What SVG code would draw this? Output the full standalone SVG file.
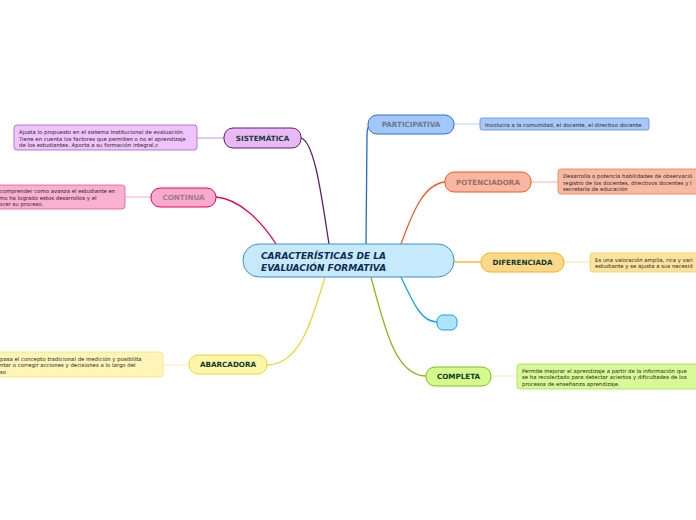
<svg xmlns="http://www.w3.org/2000/svg" width="696" height="520" viewBox="0 0 696 520">
<style>
.lbl{font-family:"DejaVu Sans",Verdana,sans-serif;font-weight:bold;font-size:7.2px;text-anchor:middle}
.desc{font-family:"DejaVu Sans",Verdana,sans-serif;font-size:5.3px;fill:#222;letter-spacing:0.04px}
.con{fill:none;stroke-width:1.3}
.thin{fill:none;stroke-width:1}
</style>
<rect width="696" height="520" fill="#ffffff"/>
<g id="connectors">
<path class="con" stroke="#5b1c6e" d="M329,244 C322,200 315,142 301,138"/>
<path class="con" stroke="#e4006b" d="M276,244 C262,222 240,199 216,197"/>
<path class="con" stroke="#1f6ed4" d="M366,244 L367,135 Q367,125 372,124"/>
<path class="con" stroke="#f05a24" d="M401,244 C414,208 425,184 445,182"/>
<path class="con" stroke="#f3b223" d="M454,262 L481,262"/>
<path class="con" stroke="#1aa0e6" d="M401,277 C414,305 422,322 437,322"/>
<path class="con" stroke="#8ab618" d="M371,277 C385,330 396,376 426,376"/>
<path class="con" stroke="#e8d63a" d="M325,277 C312,320 300,365 267,365"/>
<path class="thin" stroke="#c49ad8" d="M197,138 L224,138"/>
<path class="thin" stroke="#f7a6cc" d="M125,197 L151,197"/>
<path class="thin" stroke="#b8d2f7" d="M454,124 L480,124"/>
<path class="thin" stroke="#f6b6a0" d="M531,182 L558,182"/>
<path class="thin" stroke="#fde2a8" d="M564,262 L590,262"/>
<path class="thin" stroke="#e2f7b8" d="M491,376 L517,376"/>
<path class="thin" stroke="#f7efb0" d="M163,365 L189,365"/>
</g>
<g id="central">
<rect x="243" y="244" width="211" height="33" rx="16" fill="#c6eafb" stroke="#3e8fd1" stroke-width="1"/>
<text x="261" y="259" font-family="DejaVu Sans,Verdana,sans-serif" font-weight="bold" font-style="italic" font-size="9" fill="#0d2b55">CARACTERÍSTICAS DE LA</text>
<text x="261" y="270.5" font-family="DejaVu Sans,Verdana,sans-serif" font-weight="bold" font-style="italic" font-size="9" fill="#0d2b55">EVALUACIÓN FORMATIVA</text>
</g>
<g id="sistematica">
<rect x="224" y="128" width="77" height="20" rx="9" fill="#e8b9f5" stroke="#5b1c6e"/>
<text class="lbl" x="262.5" y="141" fill="#1a3a3a">SISTEMÁTICA</text>
</g>
<g id="sistematica-desc">
<rect x="14" y="125" width="183" height="25" rx="3" fill="#f0c3fb" stroke="#a062c0" stroke-width="0.8"/>
<text class="desc" x="19" y="134">Ajusta lo propuesto en el sistema Institucional de evaluación.</text>
<text class="desc" x="19" y="140.5">Tiene en cuenta los factores que permiten o no el aprendizaje</text>
<text class="desc" x="19" y="147">de los estudiantes. Aporta a su formación integral.c</text>
</g>
<g id="continua">
<rect x="151" y="188" width="65" height="19" rx="9" fill="#fbaacc" stroke="#e4006b"/>
<text class="lbl" x="183.5" y="200" fill="#9b7c8a">CONTINUA</text>
</g>
<g id="continua-desc">
<rect x="-5" y="185" width="130" height="24" rx="3" fill="#fbb0d0" stroke="#e4579a" stroke-width="0.8"/>
<text class="desc" x="0" y="193">comprender como avanza el estudiante en</text>
<text class="desc" x="-1" y="199.5">mo ha logrado estos desarrollos  y el</text>
<text class="desc" x="-1" y="206">ocer su proceso.</text>
</g>
<g id="participativa">
<rect x="368" y="115" width="86" height="19" rx="9" fill="#a2c8f8" stroke="#2b6fd6"/>
<text class="lbl" x="411" y="127" fill="#6a7a92">PARTICIPATIVA</text>
</g>
<g id="participativa-desc">
<rect x="480" y="118" width="169" height="12" rx="2" fill="#a8c9f7" stroke="#5a8ae0" stroke-width="0.8"/>
<text class="desc" x="485" y="126.5">Involucra a la comunidad, el docente, el directivo docente</text>
</g>
<g id="potenciadora">
<rect x="445" y="172" width="86" height="20" rx="9" fill="#f9b6a0" stroke="#ef5a2a"/>
<text class="lbl" x="488" y="185" fill="#9a7065">POTENCIADORA</text>
</g>
<g id="potenciadora-desc">
<rect x="558" y="169" width="145" height="25" rx="3" fill="#f8b9a4" stroke="#ef7a50" stroke-width="0.8"/>
<text class="desc" x="563" y="178">Desarrolla  o potencia habilidades de observació</text>
<text class="desc" x="563" y="184.5">registro de los docentes, directivos docentes y l</text>
<text class="desc" x="563" y="191">secretaría de educación</text>
</g>
<g id="diferenciada">
<rect x="481" y="253" width="83" height="19" rx="9" fill="#fcd98a" stroke="#f3b223"/>
<text class="lbl" x="522.5" y="265" fill="#123a2a">DIFERENCIADA</text>
</g>
<g id="diferenciada-desc">
<rect x="590" y="253" width="115" height="19" rx="3" fill="#fde39c" stroke="#f8cd60" stroke-width="0.8"/>
<text class="desc" x="595" y="261.5">Es una valoración amplia, rica y vari</text>
<text class="desc" x="595" y="268">estudiante y se ajusta  a sus necesid</text>
</g>
<g id="empty">
<rect x="437" y="315" width="20" height="15" rx="6" fill="#aee3fb" stroke="#1ca0e6"/>
</g>
<g id="completa">
<rect x="426" y="367" width="65" height="19" rx="9" fill="#d5f98a" stroke="#7cc11c"/>
<text class="lbl" x="458.5" y="379" fill="#123a2a">COMPLETA</text>
</g>
<g id="completa-desc">
<rect x="517" y="364" width="185" height="25" rx="3" fill="#d8f996" stroke="#a5dc58" stroke-width="0.8"/>
<text class="desc" x="522" y="372.5">Permite mejorar el aprendizaje a partir de la información que</text>
<text class="desc" x="522" y="379">se ha recolectado para detectar aciertos y dificultades de los</text>
<text class="desc" x="522" y="385.5">procesos de enseñanza aprendizaje.</text>
</g>
<g id="abarcadora">
<rect x="189" y="355" width="78" height="19" rx="9" fill="#fdf5a8" stroke="#e8d63a"/>
<text class="lbl" x="228" y="367" fill="#123a2a">ABARCADORA</text>
</g>
<g id="abarcadora-desc">
<rect x="-5" y="352" width="168" height="25" rx="3" fill="#fff5b8" stroke="#f4e07a" stroke-width="0.8"/>
<text class="desc" x="0" y="360.5">pasa el concepto tradicional de medición y posibilita</text>
<text class="desc" x="0" y="367">ntar o corregir acciones y decisiones a lo largo del</text>
<text class="desc" x="0" y="373.5">so</text>
</g>
</svg>
